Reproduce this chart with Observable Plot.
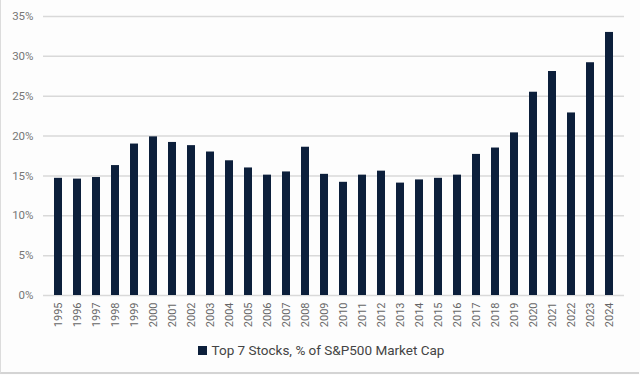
<!DOCTYPE html>
<html>
<head>
<meta charset="utf-8">
<script src="https://cdn.jsdelivr.net/npm/d3@7"></script>
<script src="https://cdn.jsdelivr.net/npm/@observablehq/plot@0.6"></script>
<style>
  html, body { margin: 0; padding: 0; background: #fdfdfd; }
  body { width: 640px; height: 375px; overflow: hidden; font-family: Roboto, "Open Sans", sans-serif; }
  #frame { position: relative; width: 638px; height: 372px; border-left: 1px solid #dcdcdc; border-bottom: 2px solid #d4d4d4; box-sizing: content-box; }
  #legend { position: absolute; left: 0; top: 342px; width: 640px; text-align: center; font-size: 13.5px; color: #444; }
  #legend .sw { display: inline-block; width: 9px; height: 9px; background: #0c1f3b; margin-right: 5px; vertical-align: 0px; }
</style>
</head>
<body>
<div id="frame">
  <div id="chart"></div>
  <div id="legend"><span class="sw"></span>Top 7 Stocks, % of S&amp;P500 Market Cap</div>
</div>
<script>
const years = ["1995","1996","1997","1998","1999","2000","2001","2002","2003","2004","2005","2006","2007","2008","2009","2010","2011","2012","2013","2014","2015","2016","2017","2018","2019","2020","2021","2022","2023","2024"];
const shares = [14.7,14.6,14.8,16.3,19.0,19.9,19.2,18.8,18.0,16.9,16.0,15.1,15.5,18.6,15.2,14.2,15.1,15.6,14.1,14.5,14.7,15.1,17.7,18.5,20.4,25.5,28.1,22.9,29.2,33.0];
const yTicks = [0,5,10,15,20,25,30,35];
const seriesName = "Top 7 Stocks, % of S&P500 Market Cap";

const data = years.map((y, i) => ({year: y, value: shares[i]}));

const chart = Plot.plot({
  width: 638,
  height: 335,
  marginLeft: 42,
  marginRight: 15,
  marginTop: 16,
  marginBottom: 40,
  style: {background: "transparent", fontFamily: "Roboto, 'Open Sans', sans-serif", fontSize: "11px", color: "#666"},
  x: {domain: years, paddingInner: 0.59, paddingOuter: 0.295, label: null},
  y: {domain: [0, 35], ticks: yTicks, tickFormat: d => d + "%", label: null},
  marks: [
    Plot.gridY(yTicks, {stroke: "#d9d9d9", strokeOpacity: 1, strokeWidth: 1.5}),
    Plot.barY(data, {x: "year", y: "value", fill: "#0c1f3b", title: d => `${d.year}: ${d.value}% (${seriesName})`}),
    Plot.axisX({tickRotate: -90, tickSize: 0, tickPadding: 7, fill: "#666", fontSize: 11}),
    Plot.axisY({ticks: yTicks, tickFormat: d => d + "%", tickSize: 0, tickPadding: 10, fill: "#777", fontSize: 11.5})
  ]
});
document.getElementById("chart").appendChild(chart);
</script>
</body>
</html>
